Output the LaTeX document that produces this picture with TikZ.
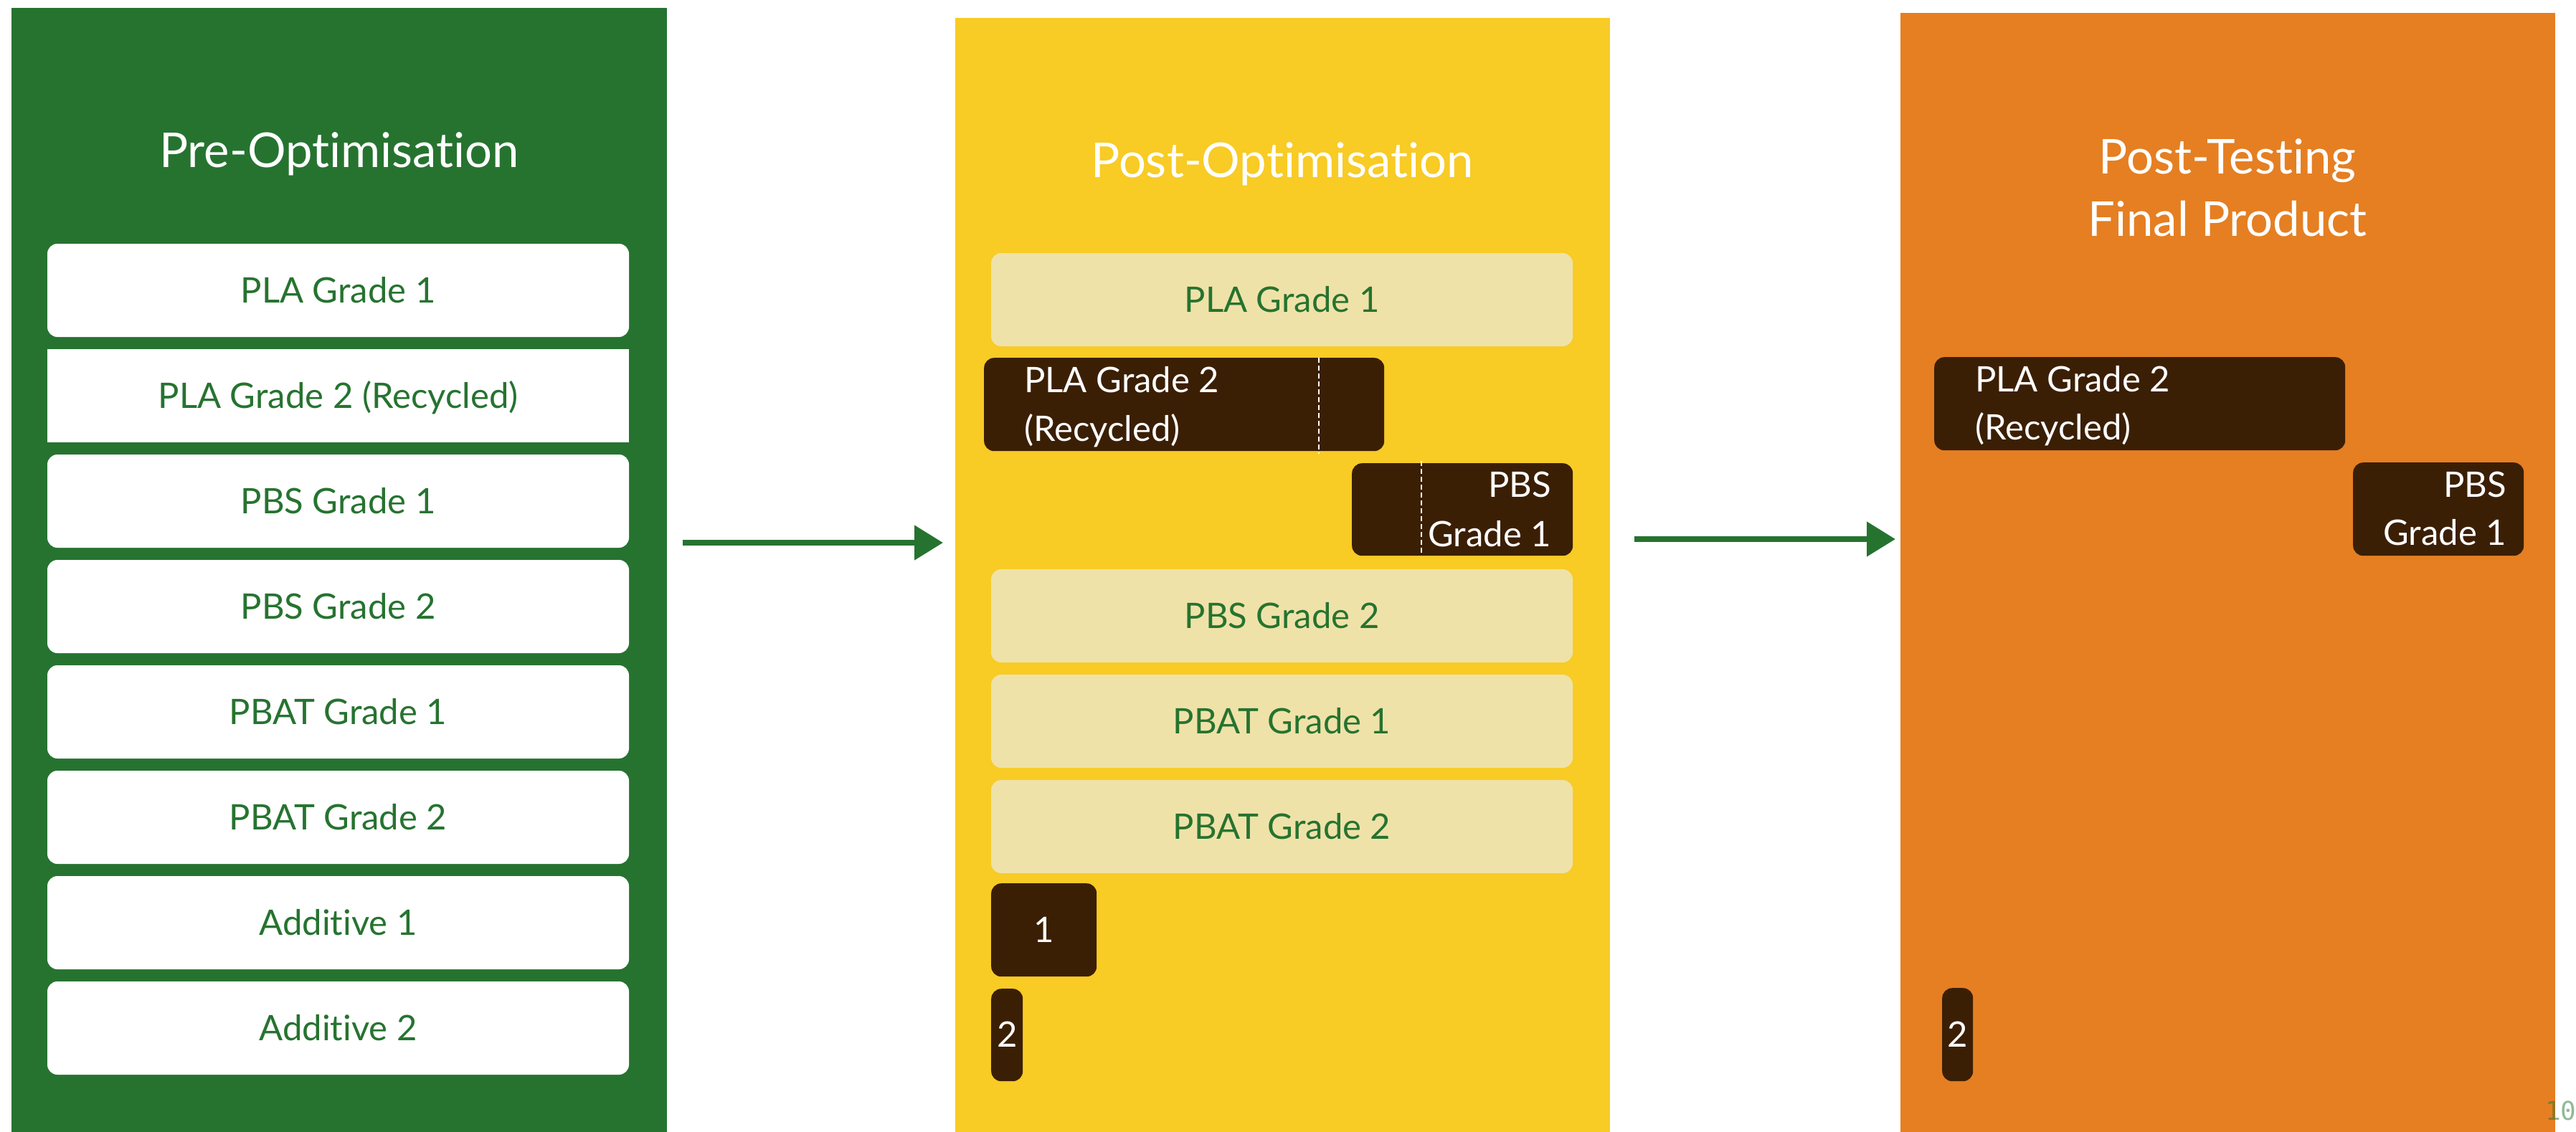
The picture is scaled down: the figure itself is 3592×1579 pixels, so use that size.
\documentclass[tikz,border=0pt]{standalone}
\usepackage{fontspec}
\setmainfont{Lato}[Ligatures={NoCommon,NoRequired,NoContextual}]
\newfontfamily\pnumfont{DejaVu Sans Mono}
\usetikzlibrary{arrows.meta}
\definecolor{cgreen}{RGB}{38,115,48}
\definecolor{cyellow}{RGB}{248,203,37}
\definecolor{clight}{RGB}{239,226,168}
\definecolor{corange}{RGB}{229,127,34}
\definecolor{cdark}{RGB}{59,31,5}
\begin{document}
\begin{tikzpicture}[x=1pt,y=-1pt,
  bodyfont/.style={font=\fontsize{49}{59}\selectfont},
  titlefont/.style={font=\fontsize{67}{80}\selectfont},
  panel/.style={rectangle, draw=none, inner sep=0pt, anchor=north west},
  cellbox/.style={rectangle, inner sep=0pt, minimum width=811pt, minimum height=130pt,
    text height=34pt, text depth=0pt, bodyfont},
  wbox/.style={cellbox, fill=white, text=cgreen, rounded corners=14pt},
  wsq/.style={cellbox, fill=white, text=cgreen},
  lbox/.style={cellbox, fill=clight, text=cgreen, rounded corners=14pt},
  dbox/.style={rectangle, inner sep=0pt, anchor=north west, fill=cdark, rounded corners=14pt,
    text=white, text height=34pt, text depth=0pt, bodyfont},
  dtext/.style={text=white, inner sep=0pt, bodyfont},
  ttl/.style={text=white, inner sep=0pt, anchor=base, titlefont},
  dashln/.style={white, line width=2.5pt, dash pattern=on 7pt off 4pt},
  arr/.style={cgreen, line width=8pt, -{Triangle[length=40pt,width=47pt]}}
]
\useasboundingbox (0,0) rectangle (3592,1579);
\fill[white] (0,0) rectangle (3592,1579);

% Panels
\node[panel, fill=cgreen, minimum width=914pt, minimum height=1568pt] (pgreen) at (16,11) {};
\node[panel, fill=cyellow, minimum width=913pt, minimum height=1554pt] (pyellow) at (1332,25) {};
\node[panel, fill=corange, minimum width=913pt, minimum height=1561pt] (porange) at (2650,18) {};

% Titles
\node[ttl] (tgreen) at (473,233) {Pre-Optimisation};
\node[ttl] (tyellow) at (1788,247) {Post-Optimisation};
\node[ttl] (torange1) at (3106,242) {Post-Testing};
\node[ttl] (torange2) at (3106,329) {Final Product};

% Pre-Optimisation column
\node[wbox] (g1) at (471.5,405) {PLA Grade 1};
\node[wsq]  (g2) at (471.5,552) {PLA Grade 2 (Recycled)};
\node[wbox] (g3) at (471.5,699) {PBS Grade 1};
\node[wbox] (g4) at (471.5,846) {PBS Grade 2};
\node[wbox] (g5) at (471.5,993) {PBAT Grade 1};
\node[wbox] (g6) at (471.5,1140) {PBAT Grade 2};
\node[wbox] (g7) at (471.5,1287) {Additive 1};
\node[wbox] (g8) at (471.5,1434) {Additive 2};

% Post-Optimisation column
\node[lbox] (y1) at (1787.5,418) {PLA Grade 1};
\node[dbox, minimum width=558pt, minimum height=130pt] (y2) at (1372,499) {};
\draw[dashln] (1839,499) -- (1839,633);
\node[dtext, anchor=base west] (y2a) at (1428,547) {PLA Grade 2};
\node[dtext, anchor=base west] (y2b) at (1428,615) {(Recycled)};
\node[dbox, minimum width=308pt, minimum height=129pt] (y3) at (1885,646) {};
\draw[dashln] (1982,643) -- (1982,775);
\node[dtext, anchor=base east] (y3a) at (2163,693) {PBS};
\node[dtext, anchor=base east] (y3b) at (2163,762) {Grade 1};
\node[lbox] (y4) at (1787.5,859) {PBS Grade 2};
\node[lbox] (y5) at (1787.5,1006) {PBAT Grade 1};
\node[lbox] (y6) at (1787.5,1153) {PBAT Grade 2};
\node[dbox, minimum width=147pt, minimum height=130pt] (y7) at (1382,1232) {1};
\node[dbox, minimum width=44pt, minimum height=129pt] (y8) at (1382,1379) {2};

% Post-Testing column
\node[dbox, minimum width=573pt, minimum height=130pt] (o2) at (2697,498) {};
\node[dtext, anchor=base west] (o2a) at (2754,546) {PLA Grade 2};
\node[dtext, anchor=base west] (o2b) at (2754,613) {(Recycled)};
\node[dbox, minimum width=238pt, minimum height=130pt] (o3) at (3281,645) {};
\node[dtext, anchor=base east] (o3a) at (3495,693) {PBS};
\node[dtext, anchor=base east] (o3b) at (3495,760) {Grade 1};
\node[dbox, minimum width=43pt, minimum height=130pt] (o8) at (2708,1378) {2};

% Arrows
\coordinate (a1s) at (952,757);
\coordinate (a1e) at (1315,757);
\coordinate (a2s) at (2279,752);
\coordinate (a2e) at (2643,752);
\draw[arr] (a1s) -- (a1e);
\draw[arr] (a2s) -- (a2e);

% page number (cut off at the edge)
\begin{scope}
\clip (0,0) rectangle (3592,1579);
\node[font=\pnumfont\fontsize{36}{44}\selectfont, text=cgreen, opacity=0.5, inner sep=0pt, anchor=base west] (pnum) at (3549,1562) {10};
\end{scope}
\end{tikzpicture}
\end{document}
